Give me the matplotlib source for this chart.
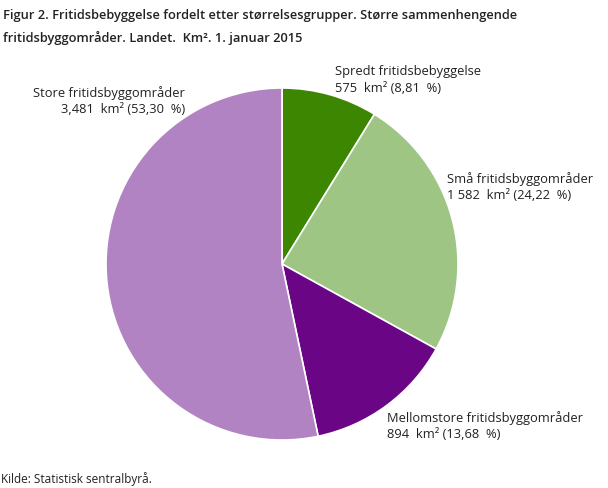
import matplotlib.pyplot as plt

# === D A T A ===
categories = ["Spredt fritidsbebyggelse", "Små fritidsbyggområder",
              "Mellomstore fritidsbyggområder", "Store fritidsbyggområder"]
area_km2 = [575, 1582, 894, 3481]
area_text = ["575", "1 582", "894", "3,481"]
percent = [8.81, 24.22, 13.68, 53.30]
colors = ["#3d8601", "#9fc584", "#6a0586", "#b283c3"]

plt.rcParams['font.family'] = ['Open Sans', 'DejaVu Sans']

W, H = 608, 489
fig = plt.figure(figsize=(W / 100, H / 100), dpi=100)

# pie centre and radius in pixels
cx, cy, r = 282, 265, 176
ax = fig.add_axes([(cx - r) / W, 1 - (cy + r) / H, 2 * r / W, 2 * r / H])
ax.pie(area_km2, colors=colors, startangle=90, counterclock=False,
       wedgeprops=dict(edgecolor='white', linewidth=1.2))
ax.set_xlim(-1, 1)
ax.set_ylim(-1, 1)
ax.set_aspect('equal')
ax.axis('off')

def px(x, y):
  return x / W, 1 - y / H

fig.text(*px(3, 16), "Figur 2. Fritidsbebyggelse fordelt etter størrelsesgrupper. Større sammenhengende",
         fontsize=9.3, weight='semibold', va='center', ha='left', color='#222222')
fig.text(*px(3, 38), "fritidsbyggområder. Landet.  Km². 1. januar 2015",
         fontsize=9.3, weight='semibold', va='center', ha='left', color='#222222')

# label anchors (pixel positions of first text line)
label_pos = [(335, 72, 'left'), (447, 179, 'left'), (387, 418, 'left'), (185, 93, 'right')]
for i, (x, y, ha) in enumerate(label_pos):
  fig.text(*px(x, y), categories[i], fontsize=9.3, ha=ha, va='center', color='#222222')
  fig.text(*px(x, y + 17), "%s  km² (%s  %%)" % (area_text[i], ("%.2f" % percent[i]).replace('.', ',')),
           fontsize=9.3, ha=ha, va='center', color='#222222')

fig.text(*px(1, 479), "Kilde: Statistisk sentralbyrå.", fontsize=8.5, ha='left', va='center', color='#222222')

fig.savefig("out.png", dpi=100)
